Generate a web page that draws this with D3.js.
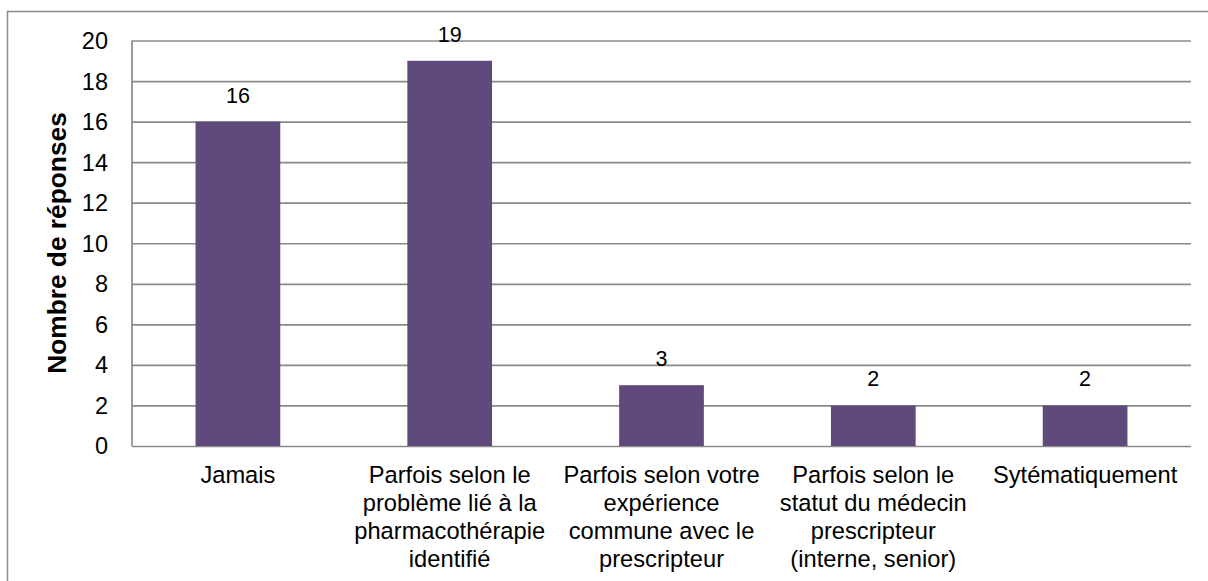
<!DOCTYPE html>
<html>
<head>
<meta charset="utf-8">
<script src="https://cdn.jsdelivr.net/npm/d3@7"></script>
<style>
  html, body { margin: 0; padding: 0; background: #fff; }
  svg { display: block; font-family: "Liberation Sans", Arial, sans-serif; }
</style>
</head>
<body>
<svg id="chart" width="1208" height="581"></svg>
<script>
const categories = [
  "Jamais",
  "Parfois selon le\nproblème lié à la\npharmacothérapie\nidentifié",
  "Parfois selon votre\nexpérience\ncommune avec le\nprescripteur",
  "Parfois selon le\nstatut du médecin\nprescripteur\n(interne, senior)",
  "Sytématiquement"
];
const values = [16, 19, 3, 2, 2];
const yTicks = [0, 2, 4, 6, 8, 10, 12, 14, 16, 18, 20];
const yTitle = "Nombre de réponses";

(function () {
const svg = d3.select("#chart");
const pLeft = 132, pRight = 1191, pTop = 40.5, pBottom = 446;

// outer border
svg.append("rect")
  .attr("x", 7.5).attr("y", 11.5)
  .attr("width", 1220).attr("height", 600)
  .attr("fill", "none").attr("stroke", "#8c8c8c").attr("stroke-width", 1.5);

const x = d3.scaleBand().domain(categories).range([pLeft, pRight])
  .paddingInner(0.6).paddingOuter(0.3);
const y = d3.scaleLinear().domain([0, 20]).range([pBottom, pTop]);

// gridlines
const grid = svg.append("g").attr("transform", `translate(${pLeft},0)`)
  .call(d3.axisLeft(y).tickValues(yTicks).tickSize(-(pRight - pLeft)).tickFormat(""));
grid.select(".domain").remove();
grid.selectAll(".tick line").attr("stroke", "#8a8a8a").attr("stroke-width", 1.7);

// left axis line
svg.append("line").attr("x1", pLeft).attr("x2", pLeft).attr("y1", pTop).attr("y2", pBottom)
  .attr("stroke", "#8a8a8a").attr("stroke-width", 1.7);

// tick labels
svg.append("g").selectAll("text").data(yTicks).join("text")
  .attr("x", 108).attr("y", d => y(d))
  .attr("dy", "0.36em")
  .attr("text-anchor", "end")
  .attr("font-size", "23.5px").attr("fill", "#000")
  .text(d => d);

// bars
svg.append("g").selectAll("rect").data(values).join("rect")
  .attr("x", (d, i) => x(categories[i]))
  .attr("width", x.bandwidth())
  .attr("y", d => y(d))
  .attr("height", d => y(0) - y(d))
  .attr("fill", "#604a7b");

// data labels
svg.append("g").selectAll("text").data(values).join("text")
  .attr("x", (d, i) => x(categories[i]) + x.bandwidth() / 2)
  .attr("y", d => y(d) - 19)
  .attr("text-anchor", "middle")
  .attr("font-size", "21.5px").attr("fill", "#000")
  .text(d => d);

// category labels
const cl = svg.append("g").selectAll("text").data(categories).join("text")
  .attr("x", d => x(d) + x.bandwidth() / 2)
  .attr("y", 483)
  .attr("text-anchor", "middle")
  .attr("font-size", "23.7px").attr("fill", "#000");
cl.each(function(d) {
  const t = d3.select(this);
  d.split("\n").forEach((line, i) => {
    t.append("tspan").attr("x", x(d) + x.bandwidth() / 2)
      .attr("dy", i === 0 ? 0 : 28).text(line);
  });
});

// y title
svg.append("text")
  .attr("transform", `translate(66,243) rotate(-90)`)
  .attr("text-anchor", "middle")
  .attr("font-size", "26.3px").attr("font-weight", "bold").attr("fill", "#000")
  .text(yTitle);
})();
</script>
</body>
</html>
